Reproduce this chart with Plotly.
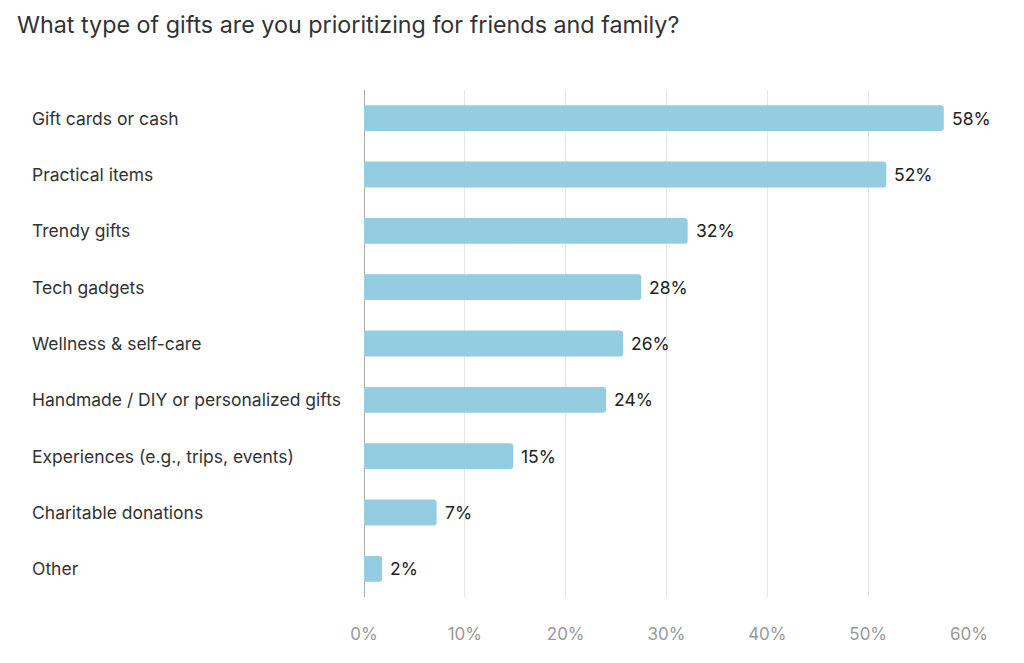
import plotly.graph_objects as go

categories = [
    "Gift cards or cash",
    "Practical items",
    "Trendy gifts",
    "Tech gadgets",
    "Wellness & self-care",
    "Handmade / DIY or personalized gifts",
    "Experiences (e.g., trips, events)",
    "Charitable donations",
    "Other",
]
values = [57.5, 51.8, 32.1, 27.5, 25.7, 24.0, 14.8, 7.2, 1.8]
labels = ["58%", "52%", "32%", "28%", "26%", "24%", "15%", "7%", "2%"]
tick_vals = [0, 10, 20, 30, 40, 50, 60]
tick_text = ["0%", "10%", "20%", "30%", "40%", "50%", "60%"]

FONT = "Inter, Roboto, Noto Sans, sans-serif"

fig = go.Figure()
fig.add_trace(go.Bar(
    x=values,
    y=categories,
    orientation="h",
    marker=dict(color="#94CDE1", cornerradius=3, line=dict(width=0)),
    width=0.46,
    hoverinfo="skip",
))

for c, v, t in zip(categories, values, labels):
    fig.add_annotation(
        x=0, xref="paper", y=c, yref="y",
        text=c, showarrow=False, xanchor="left", yanchor="middle",
        xshift=-334,
        font=dict(family=FONT, size=17.5, color="#333333"),
    )
    fig.add_annotation(
        x=v, xref="x", y=c, yref="y",
        text=t, showarrow=False, xanchor="left", yanchor="middle",
        xshift=6,
        font=dict(family=FONT, size=17.5, color="#222222"),
    )

fig.update_layout(
    width=1024, height=663,
    margin=dict(l=364, r=55, t=90, b=66),
    paper_bgcolor="white", plot_bgcolor="white",
    showlegend=False,
    title=dict(
        text="What type of gifts are you prioritizing for friends and family?",
        x=17 / 1024, xanchor="left", xref="container",
        y=1 - 25 / 663, yanchor="middle", yref="container",
        font=dict(family=FONT, size=23.3, color="#333333"),
    ),
    xaxis=dict(
        range=[0, 60],
        tickvals=tick_vals, ticktext=tick_text,
        showgrid=True, gridcolor="#E6E6E6", gridwidth=1,
        zeroline=True, zerolinecolor="#AAAAAA", zerolinewidth=1,
        showline=False,
        ticks="outside", ticklen=22, tickcolor="rgba(0,0,0,0)",
        tickfont=dict(family=FONT, size=17, color="#999999"),
        fixedrange=True,
    ),
    yaxis=dict(
        categoryorder="array", categoryarray=categories,
        autorange="reversed",
        showticklabels=False, showgrid=False, zeroline=False, showline=False,
        fixedrange=True,
    ),
    bargap=0.54,
)

fig.write_html("out.html")
